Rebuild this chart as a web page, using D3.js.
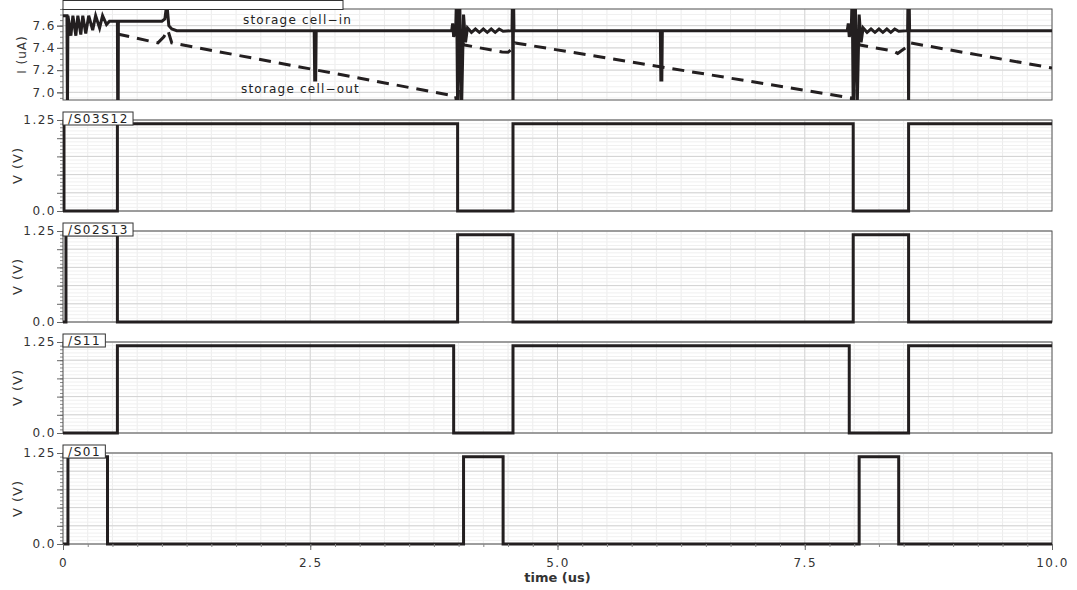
<!DOCTYPE html>
<html>
<head>
<meta charset="utf-8">
<script src="https://cdn.jsdelivr.net/npm/d3@7"></script>
<style>
  body { margin: 0; background: #fff; }
  svg { font-family: "DejaVu Sans", sans-serif; }
</style>
</head>
<body>
<svg width="1077" height="590"></svg>
<script>
// axis ticks
const timeTicks = [0, 2.5, 5.0, 7.5, 10.0];
const currentTicks = [7.0, 7.2, 7.4, 7.6];
const voltTicks = [0.0, 1.25];

// top panel: current traces [time (us), I (uA)]
const cellIn = [
  [0.00, 7.69], [0.04, 7.69], [0.045, 6.85], [0.05, 7.69],
  [0.08, 7.51], [0.10, 7.69], [0.13, 7.51], [0.15, 7.69], [0.18, 7.52], [0.20, 7.69],
  [0.23, 7.53], [0.26, 7.69], [0.30, 7.56], [0.33, 7.69], [0.37, 7.58], [0.40, 7.69],
  [0.44, 7.61], [0.47, 7.64], [0.55, 7.64], [0.553, 6.85], [0.558, 6.85], [0.56, 7.64],
  [1.00, 7.64], [1.03, 7.66], [1.05, 7.80], [1.07, 7.60], [1.10, 7.57], [1.15, 7.555],
  [2.54, 7.555], [2.545, 7.11], [2.555, 7.11], [2.56, 7.555],
  [3.93, 7.555], [3.94, 7.62], [3.95, 7.50], [3.97, 7.555], [3.98, 7.90], [3.99, 6.85],
  [4.01, 7.90], [4.03, 6.85], [4.05, 7.70], [4.07, 7.45], [4.09, 7.58],
  [4.13, 7.54], [4.17, 7.57], [4.21, 7.54], [4.25, 7.57], [4.29, 7.54], [4.33, 7.57],
  [4.37, 7.54], [4.41, 7.57], [4.45, 7.55], [4.54, 7.555], [4.545, 7.90], [4.55, 6.85],
  [4.555, 7.90], [4.56, 7.555],
  [6.04, 7.555], [6.045, 7.11], [6.055, 7.11], [6.06, 7.555],
  [7.93, 7.555], [7.94, 7.62], [7.95, 7.50], [7.97, 7.555], [7.98, 7.90], [7.99, 6.85],
  [8.01, 7.90], [8.03, 6.85], [8.05, 7.70], [8.07, 7.45], [8.09, 7.58],
  [8.13, 7.54], [8.17, 7.57], [8.21, 7.54], [8.25, 7.57], [8.29, 7.54], [8.33, 7.57],
  [8.37, 7.54], [8.41, 7.57], [8.45, 7.55], [8.54, 7.555], [8.545, 7.90], [8.55, 6.85],
  [8.555, 7.90], [8.56, 7.555], [10.0, 7.555]
];
const cellOut = [
  [0.55, 7.525], [0.96, 7.445], [1.02, 7.50], [1.06, 7.56], [1.10, 7.445],
  [3.97, 6.965], [3.99, 6.85], [4.02, 7.45], [4.06, 7.426], [4.44, 7.363],
  [4.50, 7.36], [4.55, 7.40], [4.57, 7.444],
  [7.97, 6.95], [7.99, 6.85], [8.02, 7.45], [8.06, 7.426], [8.40, 7.37],
  [8.44, 7.35], [8.47, 7.37], [8.55, 7.42], [8.57, 7.444], [10.0, 7.219]
];

// lower panels: switch signals as step edges [time (us), V]
const signalNames = ["/S03S12", "/S02S13", "/S11", "/S01"];
const s03s12 = [[0, 1.2], [0.01, 0], [0.55, 1.2], [3.99, 0], [4.55, 1.2], [7.99, 0], [8.55, 1.2], [10, 1.2]];
const s02s13 = [[0, 0], [0.03, 1.2], [0.55, 0], [3.99, 1.2], [4.55, 0], [7.99, 1.2], [8.55, 0], [10, 0]];
const s11 = [[0, 0], [0.55, 1.2], [3.95, 0], [4.55, 1.2], [7.95, 0], [8.55, 1.2], [10, 1.2]];
const s01 = [[0, 0], [0.05, 1.2], [0.45, 0], [4.05, 1.2], [4.45, 0], [8.05, 1.2], [8.45, 0], [10, 0]];
const signals = [s03s12, s02s13, s11, s01];

const svg = d3.select("svg");
const left = 63, right = 1052, top0 = 9, panelH = 91, panelStep = 111;
const ink = "#231f20";

const x = d3.scaleLinear().domain([0, 10]).range([left, right]);

function rangeStep(a, b, s) {
  const out = [];
  for (let v = a; v <= b + 1e-9; v += s) out.push(+v.toFixed(4));
  return out;
}

function drawPanel(i, domain, minorStep, majorStep, labelTicks, fmt, yLabel, labelX, labelSize) {
  const top = top0 + i * panelStep, bottom = top + panelH;
  const y = d3.scaleLinear().domain(domain).range([bottom, top]);
  const g = svg.append("g");

  // grid: minor then major
  const minorV = rangeStep(0, 10, 0.25);
  g.selectAll(".vmin").data(minorV).enter().append("line")
    .attr("x1", d => x(d)).attr("x2", d => x(d)).attr("y1", top).attr("y2", bottom)
    .attr("stroke", "#ececec");
  const minorH = rangeStep(Math.ceil(domain[0] / minorStep) * minorStep, domain[1], minorStep);
  g.selectAll(".hmin").data(minorH).enter().append("line")
    .attr("x1", left).attr("x2", right).attr("y1", d => y(d)).attr("y2", d => y(d))
    .attr("stroke", "#f0f0f0");
  const majorH = rangeStep(Math.ceil(domain[0] / majorStep - 1e-9) * majorStep, domain[1], majorStep);
  g.selectAll(".hmaj").data(majorH).enter().append("line")
    .attr("x1", left).attr("x2", right).attr("y1", d => y(d)).attr("y2", d => y(d))
    .attr("stroke", "#d2d2d2");
  g.selectAll(".vmaj").data([2.5, 5.0, 7.5]).enter().append("line")
    .attr("x1", d => x(d)).attr("x2", d => x(d)).attr("y1", top).attr("y2", bottom)
    .attr("stroke", "#d6d6d6");

  // left axis: minor ticks, major ticks, labels
  g.append("g").attr("transform", `translate(${left},0)`)
    .call(d3.axisLeft(y).tickValues(minorH).tickSize(3).tickFormat(""))
    .call(a => a.select(".domain").remove())
    .call(a => a.selectAll("line").attr("stroke", "#888"));
  g.append("g").attr("transform", `translate(${left},0)`)
    .call(d3.axisLeft(y).tickValues(majorH.concat(labelTicks)).tickSize(6).tickFormat(""))
    .call(a => a.select(".domain").remove())
    .call(a => a.selectAll("line").attr("stroke", "#666"));
  g.selectAll(".ylab").data(labelTicks).enter().append("text")
    .attr("x", left - 7).attr("y", d => y(d)).attr("dy", "0.36em")
    .attr("text-anchor", "end").attr("font-size", 12).attr("letter-spacing", 1.5)
    .attr("fill", "#333").text(fmt);

  g.append("text")
    .attr("transform", `translate(${labelX},${(top + bottom) / 2}) rotate(-90)`)
    .attr("text-anchor", "middle").attr("dy", "0.36em")
    .attr("font-size", labelSize).attr("letter-spacing", 1).attr("fill", "#333")
    .text(yLabel);

  // frame
  g.append("rect").attr("x", left).attr("y", top).attr("width", right - left).attr("height", panelH)
    .attr("fill", "none").attr("stroke", "#555").attr("stroke-width", 1);

  const clipId = "clip" + i;
  svg.append("clipPath").attr("id", clipId).append("rect")
    .attr("x", left).attr("y", top - (i === 0 ? 0 : 3))
    .attr("width", right - left).attr("height", panelH + (i === 0 ? 0 : 5));

  return { g, y, top, bottom, clipId };
}

// ---- current panel ----
const p0 = drawPanel(0, [6.931, 7.75], 0.05, 0.2, currentTicks, d => d.toFixed(1), "I (uA)", 22, 12);
const lineI = d3.line().x(d => x(d[0])).y(d => p0.y(d[1]));
const traces = svg.append("g").attr("clip-path", `url(#${p0.clipId})`);
traces.append("path").attr("d", lineI(cellOut))
  .attr("fill", "none").attr("stroke", ink).attr("stroke-width", 3)
  .attr("stroke-dasharray", "12,8");
traces.append("path").attr("d", lineI(cellIn))
  .attr("fill", "none").attr("stroke", ink).attr("stroke-width", 3)
  .attr("stroke-linejoin", "miter");

// top header box
svg.append("rect").attr("x", left).attr("y", 0.5).attr("width", 280).attr("height", 9)
  .attr("fill", "#fff").attr("stroke", "#333");

svg.append("text").attr("x", x(1.82)).attr("y", p0.top + 15)
  .attr("font-size", 12).attr("letter-spacing", 1.2).attr("fill", "#222")
  .text("storage cell\u2212in");
svg.append("text").attr("x", x(1.80)).attr("y", p0.top + 84)
  .attr("font-size", 12).attr("letter-spacing", 1.2).attr("fill", "#222")
  .text("storage cell\u2212out");

// ---- voltage panels ----
signals.forEach((sig, k) => {
  const p = drawPanel(k + 1, [0, 1.25], 0.05, 0.25, voltTicks,
    d => d === 0 ? "0.0" : "1.25", "V (V)", 17, 13);
  const lineV = d3.line().x(d => x(d[0])).y(d => p.y(d[1])).curve(d3.curveStepAfter);
  svg.append("path").attr("clip-path", `url(#${p.clipId})`)
    .attr("d", lineV(sig))
    .attr("fill", "none").attr("stroke", ink).attr("stroke-width", 3)
    .attr("stroke-linejoin", "miter");

  // name box
  const lab = svg.append("g");
  const box = lab.append("rect").attr("x", left).attr("y", p.top - 8).attr("height", 13)
    .attr("fill", "#fff").attr("stroke", "#333");
  const t = lab.append("text").attr("x", left + 5).attr("y", p.top + 3)
    .attr("font-size", 12).attr("letter-spacing", 1.6).attr("fill", "#222")
    .text(signalNames[k]);
  box.attr("width", t.node().getComputedTextLength() + 9);
});

// ---- bottom time axis ----
const yBottom = top0 + 4 * panelStep + panelH;
svg.append("g").attr("transform", `translate(0,${yBottom})`)
  .call(d3.axisBottom(x).tickValues(rangeStep(0, 10, 0.25)).tickSize(3).tickFormat(""))
  .call(a => a.select(".domain").remove())
  .call(a => a.selectAll("line").attr("stroke", "#888"));
svg.append("g").attr("transform", `translate(0,${yBottom})`)
  .call(d3.axisBottom(x).tickValues(timeTicks).tickSize(6)
    .tickFormat(d => d === 0 ? "0" : d.toFixed(1)))
  .call(a => a.select(".domain").remove())
  .call(a => a.selectAll("line").attr("stroke", "#666"))
  .call(a => a.selectAll("text").attr("font-size", 12).attr("letter-spacing", 1.5)
    .attr("fill", "#333").attr("font-family", "DejaVu Sans, sans-serif").attr("dy", "1.2em"));

svg.append("text").attr("x", x(5)).attr("y", yBottom + 38)
  .attr("text-anchor", "middle").attr("font-size", 13).attr("font-weight", "bold")
  .attr("fill", "#333").text("time (us)");
</script>
</body>
</html>
